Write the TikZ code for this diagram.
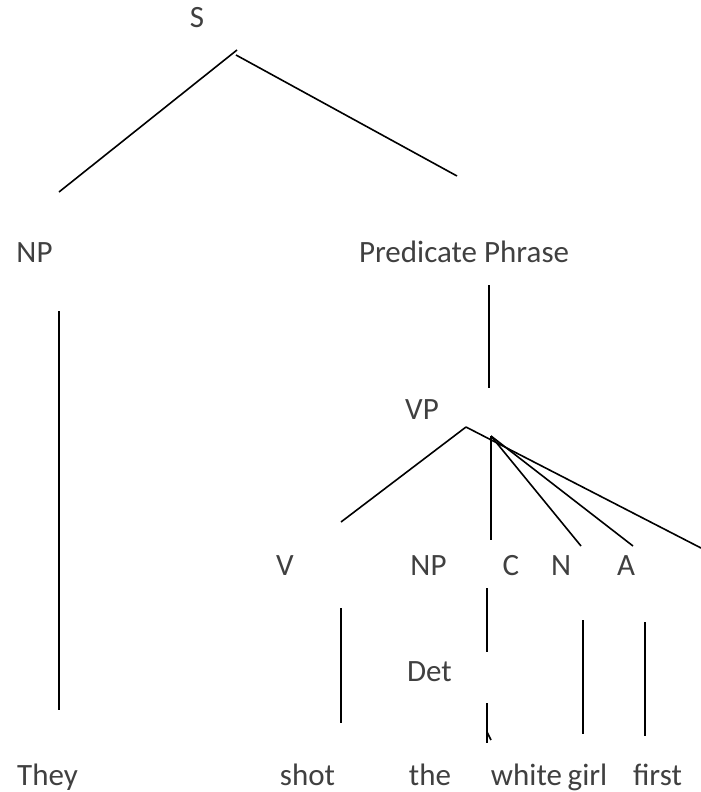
\documentclass[tikz,border=0pt]{standalone}
\usepackage{fontspec}
\setmainfont{Carlito}
\usetikzlibrary{positioning}
\definecolor{textgray}{HTML}{404040}
\tikzset{tag/.style={anchor=base, inner sep=0pt, text=textgray,
                     font=\fontsize{31}{37}\selectfont},
         branch/.style={draw=black, line width=1.6pt}}

\begin{document}
\begin{tikzpicture}[x=1pt, y=-1pt]
        \useasboundingbox (0,0) rectangle (701,792);
        % categories
        \node[tag] (s) at (197,28) {S};
        \node[tag] (np) at (34.5,262) {NP};
        \node[tag] (pp) at (464,262) {Predicate Phrase};
        \node[tag] (vp) at (422,419) {VP};
        \node[tag] (v) at (285,575) {V};
        \node[tag] (np2) at (428.5,575) {NP};
        \node[tag] (c) at (511,575) {C};
        \node[tag] (n) at (561,575) {N};
        \node[tag] (a) at (626,575) {A};
        \node[tag] (det) at (429.5,681) {Det};
        % words
        \node[tag] (they) at (47.5,785) {They};
        \node[tag] (shot) at (307.5,785) {shot};
        \node[tag] (the) at (430,785) {the};
        \node[tag] (white) at (526.5,785) {white};
        \node[tag] (girl) at (587.5,785) {girl};
        \node[tag] (first) at (657.5,785) {first};

        % branch ends
        \coordinate (s-l) at (237,50);
        \coordinate (s-r) at (236,55);
        \coordinate (np-up) at (59,192);
        \coordinate (pp-up) at (457,176);
        \coordinate (np-a) at (59,311);
        \coordinate (np-b) at (59,710);
        \coordinate (pp-a) at (489,285);
        \coordinate (pp-b) at (489,388);
        \coordinate (vp-apex) at (466,427);
        \coordinate (vp-fork) at (491,436);
        \coordinate (v-up) at (341,522);
        \coordinate (c-up) at (491,540);
        \coordinate (n-up) at (581,546);
        \coordinate (a-up) at (633,546);
        \coordinate (edge-up) at (701,548);
        \coordinate (v-a) at (341,608);
        \coordinate (v-b) at (341,723);
        \coordinate (det-a) at (487,588);
        \coordinate (det-b) at (487,652);
        \coordinate (the-a) at (487,703);
        \coordinate (the-b) at (487,743);
        \coordinate (tick-a) at (487,732);
        \coordinate (tick-b) at (491,740);
        \coordinate (n-a) at (583,620);
        \coordinate (n-b) at (583,734);
        \coordinate (a-a) at (645,622);
        \coordinate (a-b) at (645,736);

        \draw[branch] (s-l) -- (np-up);
        \draw[branch] (s-r) -- (pp-up);
        \draw[branch] (np-a) -- (np-b);
        \draw[branch] (pp-a) -- (pp-b);
        \draw[branch] (vp-apex) -- (v-up);
        \draw[branch] (vp-apex) -- (edge-up);
        \draw[branch] (vp-fork) -- (c-up);
        \draw[branch] (vp-fork) -- (n-up);
        \draw[branch] (vp-fork) -- (a-up);
        \draw[branch] (v-a) -- (v-b);
        \draw[branch] (det-a) -- (det-b);
        \draw[branch] (the-a) -- (the-b);
        \draw[branch] (tick-a) -- (tick-b);
        \draw[branch] (n-a) -- (n-b);
        \draw[branch] (a-a) -- (a-b);
    \end{tikzpicture}
\end{document}
